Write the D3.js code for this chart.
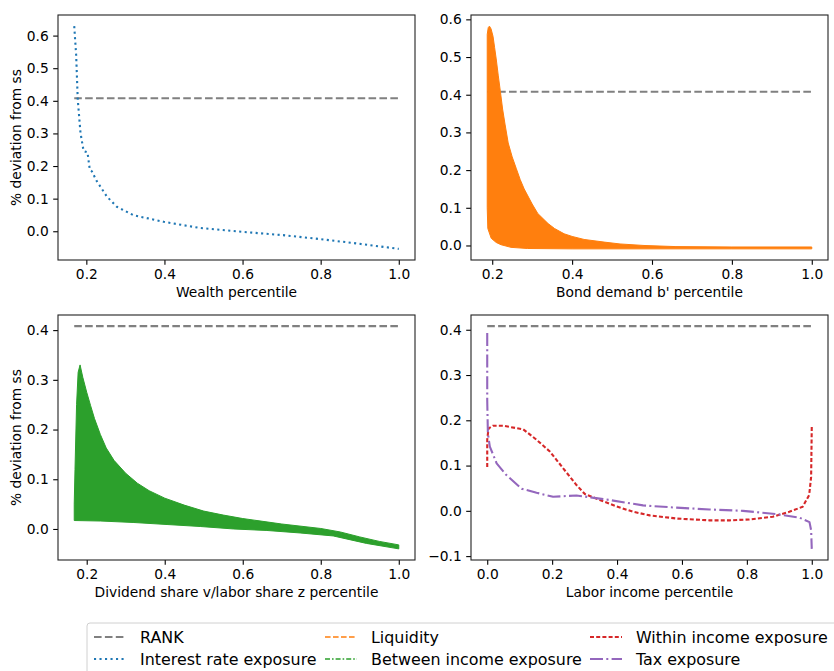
<!DOCTYPE html>
<html>
<head>
<meta charset="utf-8">
<script src="https://cdn.jsdelivr.net/npm/d3@7"></script>
<style>
  body { margin: 0; background: #fff; }
  svg { display: block; }
  text { font-family: "DejaVu Sans", sans-serif; fill: #000; }
</style>
</head>
<body>
<svg id="chart" width="834" height="671"></svg>
<script>
// ---- data ---------------------------------------------------------------
const rankLevel = 0.408;

// Interest rate exposure vs wealth percentile
const wealthPct    = [0.169, 0.174, 0.178, 0.185, 0.193, 0.203, 0.207, 0.209, 0.214, 0.227, 0.253, 0.278, 0.321, 0.398, 0.491, 0.602, 0.704, 0.798, 0.883, 1.000];
const interestRate = [0.629, 0.539, 0.405, 0.302, 0.246, 0.242, 0.205, 0.189, 0.184, 0.153, 0.106, 0.075, 0.049, 0.029, 0.010, -0.002, -0.012, -0.024, -0.036, -0.054];

// Liquidity vs bond demand percentile: upper and lower envelope of the band
const bondPctUpper   = [0.1875, 0.190, 0.193, 0.197, 0.202, 0.206, 0.210, 0.215, 0.220, 0.226, 0.232, 0.240, 0.250, 0.260, 0.270, 0.280, 0.300, 0.314, 0.340, 0.356, 0.380, 0.400, 0.430, 0.480, 0.520, 0.580, 0.660, 0.800, 1.000];
const liquidityUpper = [0.560, 0.578, 0.582, 0.575, 0.555, 0.525, 0.495, 0.452, 0.412, 0.362, 0.322, 0.272, 0.235, 0.205, 0.175, 0.150, 0.110, 0.085, 0.058, 0.045, 0.031, 0.024, 0.016, 0.009, 0.004, 0.000, -0.003, -0.004, -0.004];
const bondPctLower   = [0.1875, 0.189, 0.1975, 0.210, 0.222, 0.247, 0.288, 0.400, 0.600, 0.800, 1.000];
const liquidityLower = [0.100, 0.045, 0.019, 0.008, 0.002, -0.005, -0.008, -0.009, -0.009, -0.009, -0.009];

// Between income exposure vs dividend/labor share percentile
const sharePctUpper = [0.168, 0.170, 0.174, 0.178, 0.183, 0.190, 0.200, 0.210, 0.220, 0.235, 0.250, 0.270, 0.300, 0.330, 0.360, 0.400, 0.450, 0.500, 0.550, 0.600, 0.700, 0.800, 0.850, 0.900, 0.950, 1.000];
const betweenUpper  = [0.050, 0.120, 0.250, 0.315, 0.330, 0.305, 0.275, 0.248, 0.222, 0.190, 0.163, 0.138, 0.112, 0.092, 0.077, 0.062, 0.048, 0.036, 0.028, 0.021, 0.010, 0.001, -0.006, -0.016, -0.025, -0.032];
const sharePctLower = [0.168, 0.236, 0.321, 0.406, 0.491, 0.577, 0.662, 0.747, 0.832, 0.917, 1.000];
const betweenLower  = [0.017, 0.016, 0.013, 0.009, 0.005, 0.000, -0.003, -0.008, -0.014, -0.029, -0.040];

// Within income and tax exposure vs labor income percentile
const laborPctWithin = [0.000, 0.000, 0.004, 0.018, 0.049, 0.111, 0.152, 0.193, 0.234, 0.275, 0.301, 0.347, 0.398, 0.449, 0.501, 0.583, 0.685, 0.747, 0.808, 0.880, 0.931, 0.972, 0.992, 0.998, 1.000];
const withinIncome   = [0.097, 0.157, 0.182, 0.188, 0.188, 0.180, 0.157, 0.131, 0.094, 0.057, 0.037, 0.024, 0.010, -0.002, -0.010, -0.017, -0.021, -0.021, -0.019, -0.013, -0.002, 0.009, 0.035, 0.075, 0.186];
const laborPctTax    = [0.000, 0.000, 0.002, 0.008, 0.029, 0.059, 0.106, 0.152, 0.203, 0.275, 0.377, 0.480, 0.583, 0.685, 0.788, 0.890, 0.962, 0.993, 0.998, 1.000];
const taxExposure    = [0.393, 0.245, 0.171, 0.142, 0.105, 0.079, 0.049, 0.040, 0.031, 0.034, 0.024, 0.012, 0.007, 0.003, 0.000, -0.007, -0.015, -0.025, -0.043, -0.084];

// tick values
const xTicksShare = [0.2, 0.4, 0.6, 0.8, 1.0];
const xTicksLabor = [0.0, 0.2, 0.4, 0.6, 0.8, 1.0];
const yTicksWealth = [0.0, 0.1, 0.2, 0.3, 0.4, 0.5, 0.6];
const yTicksBond   = [0.0, 0.1, 0.2, 0.3, 0.4, 0.5, 0.6];
const yTicksShare  = [0.0, 0.1, 0.2, 0.3, 0.4];
const yTicksLabor  = [-0.1, 0.0, 0.1, 0.2, 0.3, 0.4];

// legend entries
const legendLabels = ["RANK", "Interest rate exposure", "Liquidity", "Between income exposure", "Within income exposure", "Tax exposure"];

// ---- styles -------------------------------------------------------------
const C = { rank: "#808080", blue: "#1f77b4", orange: "#ff7f0e", green: "#2ca02c", red: "#d62728", purple: "#9467bd" };
const styles = {
  rank:     { stroke: C.rank,   width: 2.1, dash: "7.6,3.3" },
  interest: { stroke: C.blue,   width: 2.1, dash: "2.1,3.4" },
  liquidity:{ stroke: C.orange, width: 1.6, dash: "5.6,2.4" },
  between:  { stroke: C.green,  width: 1.6, dash: "5,2,1.6,2" },
  within:   { stroke: C.red,    width: 2.1, dash: "4,2.2" },
  tax:      { stroke: C.purple, width: 2.1, dash: "13,3.3,2,3.3" }
};

const FONT = 13.8;
const svg = d3.select("#chart");
const zip = (xs, ys) => xs.map((x, i) => [x, ys[i]]);

// matplotlib-like 5% padded domain
function padded(values) {
  const [lo, hi] = d3.extent(values);
  const m = (hi - lo) * 0.05;
  return [lo - m, hi + m];
}
const fmt = v => d3.format(".1f")(Math.abs(v) < 1e-9 ? 0 : v).replace("-", "\u2212");

function panel(cfg) {
  const g = svg.append("g").attr("transform", `translate(${cfg.left},${cfg.top})`);
  const w = 357, h = 245;
  const x = d3.scaleLinear().domain(padded(cfg.xs)).range([0, w]);
  const y = d3.scaleLinear().domain(padded(cfg.ys)).range([h, 0]);

  const clipId = "clip" + cfg.left + "_" + cfg.top;
  g.append("clipPath").attr("id", clipId).append("rect").attr("width", w).attr("height", h);
  const plot = g.append("g").attr("clip-path", `url(#${clipId})`);
  cfg.draw(plot, x, y);

  // axes
  const xa = g.append("g").attr("transform", `translate(0,${h})`)
    .call(d3.axisBottom(x).tickValues(cfg.xTicks).tickFormat(fmt).tickSize(4.8).tickPadding(4.5));
  const ya = g.append("g")
    .call(d3.axisLeft(y).tickValues(cfg.yTicks).tickFormat(fmt).tickSize(4.8).tickPadding(4.5));
  [xa, ya].forEach(a => {
    a.select(".domain").remove();
    a.selectAll(".tick line").attr("stroke", "#000").attr("stroke-width", 1.1);
    a.selectAll(".tick text").style("font-size", FONT + "px").attr("fill", "#000");
  });
  g.append("rect").attr("width", w).attr("height", h)
    .attr("fill", "none").attr("stroke", "#222").attr("stroke-width", 1.1);

  g.append("text").attr("x", w / 2).attr("y", h + 37)
    .attr("text-anchor", "middle").style("font-size", FONT + "px").text(cfg.xLabel);
  if (cfg.yLabel) {
    g.append("text").attr("transform", `translate(${-cfg.left + 16},${h / 2}) rotate(-90)`)
      .attr("text-anchor", "middle").attr("dominant-baseline", "central")
      .style("font-size", FONT + "px").text(cfg.yLabel);
  }
}

function strokeLine(plot, x, y, pts, st) {
  plot.append("path").datum(pts)
    .attr("d", d3.line().x(d => x(d[0])).y(d => y(d[1])))
    .attr("fill", "none").attr("stroke", st.stroke).attr("stroke-width", st.width)
    .attr("stroke-dasharray", st.dash).attr("stroke-linejoin", "round");
}
function band(plot, x, y, upper, lower, color) {
  const pts = upper.concat(lower.slice().reverse());
  plot.append("path").datum(pts)
    .attr("d", d3.line().x(d => x(d[0])).y(d => y(d[1])).curve(d3.curveLinearClosed))
    .attr("fill", color).attr("stroke", color).attr("stroke-width", 1);
}
function rankLine(plot, x, y, xs) {
  const [a, b] = d3.extent(xs);
  strokeLine(plot, x, y, [[a, rankLevel], [b, rankLevel]], styles.rank);
}

// top-left: interest rate exposure
panel({
  left: 58, top: 15,
  xs: wealthPct, ys: interestRate.concat([rankLevel]),
  xTicks: xTicksShare, yTicks: yTicksWealth,
  xLabel: "Wealth percentile", yLabel: "% deviation from ss",
  draw: (p, x, y) => {
    rankLine(p, x, y, wealthPct);
    strokeLine(p, x, y, zip(wealthPct, interestRate), styles.interest);
  }
});

// top-right: liquidity
panel({
  left: 471, top: 15,
  xs: bondPctUpper.concat(bondPctLower), ys: liquidityUpper.concat(liquidityLower, [rankLevel]),
  xTicks: xTicksShare, yTicks: yTicksBond,
  xLabel: "Bond demand b' percentile", yLabel: null,
  draw: (p, x, y) => {
    rankLine(p, x, y, bondPctUpper);
    band(p, x, y, zip(bondPctUpper, liquidityUpper), zip(bondPctLower, liquidityLower), C.orange);
  }
});

// bottom-left: between income exposure
panel({
  left: 58, top: 315,
  xs: sharePctUpper.concat(sharePctLower), ys: betweenUpper.concat(betweenLower, [rankLevel]),
  xTicks: xTicksShare, yTicks: yTicksShare,
  xLabel: "Dividend share v/labor share z percentile", yLabel: "% deviation from ss",
  draw: (p, x, y) => {
    rankLine(p, x, y, sharePctUpper);
    band(p, x, y, zip(sharePctUpper, betweenUpper), zip(sharePctLower, betweenLower), C.green);
  }
});

// bottom-right: within income and tax exposure
panel({
  left: 471, top: 315,
  xs: laborPctWithin.concat(laborPctTax), ys: withinIncome.concat(taxExposure, [rankLevel]),
  xTicks: xTicksLabor, yTicks: yTicksLabor,
  xLabel: "Labor income percentile", yLabel: null,
  draw: (p, x, y) => {
    rankLine(p, x, y, laborPctWithin);
    strokeLine(p, x, y, zip(laborPctWithin, withinIncome), styles.within);
    strokeLine(p, x, y, zip(laborPctTax, taxExposure), styles.tax);
  }
});

// legend
const leg = svg.append("g");
leg.append("rect").attr("x", 87).attr("y", 623).attr("width", 780).attr("height", 70)
  .attr("rx", 3).attr("fill", "#fff").attr("fill-opacity", 0.8)
  .attr("stroke", "#d0d0d0").attr("stroke-width", 1);
const legendStyles = [styles.rank, styles.interest, styles.liquidity, styles.between, styles.within, styles.tax];
const colX = [94, 325, 590], rowY = [637, 659];
legendLabels.forEach((label, i) => {
  const cx = colX[Math.floor(i / 2)], cy = rowY[i % 2], st = legendStyles[i];
  leg.append("line").attr("x1", cx).attr("x2", cx + 32).attr("y1", cy).attr("y2", cy)
    .attr("stroke", st.stroke).attr("stroke-width", st.width).attr("stroke-dasharray", st.dash);
  leg.append("text").attr("x", cx + 46).attr("y", cy).attr("dominant-baseline", "central")
    .style("font-size", "15.9px").text(label);
});
</script>
</body>
</html>
